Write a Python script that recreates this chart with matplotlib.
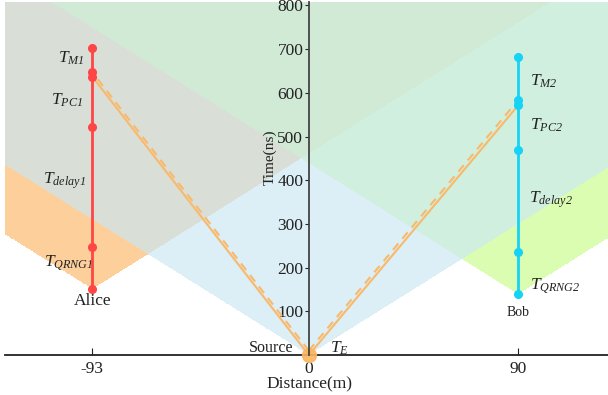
import numpy as np
import matplotlib.pyplot as plt
from matplotlib.colors import ListedColormap

plt.rcParams['font.family'] = ['Liberation Serif', 'DejaVu Serif']
plt.rcParams['mathtext.fontset'] = 'custom'
plt.rcParams['mathtext.rm'] = 'Liberation Serif'
plt.rcParams['mathtext.it'] = 'Liberation Serif:italic'
plt.rcParams['mathtext.sf'] = 'Liberation Serif:italic'  # italic digits in subscripts

# positions (m) and event times (ns)
x_alice = -93
x_bob = 90
alice_t = [151, 248, 522, 637, 647, 702]
bob_t = [139, 236, 469, 572, 584, 683]
fiber_alice = [637, 647]   # solid / dashed arrival
fiber_bob = [572, 584]
dash_start = 10
inv_c = 3.336  # ns per m

xticks = [-93, 0, 90]
xticklabels = ['-93', '0', '90']
yticks = [100, 200, 300, 400, 500, 600, 700, 800]

tex_labels = [
    (r'$T_{\mathsf{M1}}$', -102, 680),
    (r'$T_{\mathsf{PC1}}$', -104, 583),
    (r'$T_{\mathsf{delay1}}$', -105, 400),
    (r'$T_{\mathsf{QRNG1}}$', -103, 210),
    (r'$T_{\mathsf{M2}}$', 101, 627),
    (r'$T_{\mathsf{PC2}}$', 102, 526),
    (r'$T_{\mathsf{delay2}}$', 104, 355),
    (r'$T_{\mathsf{QRNG2}}$', 106, 156),
    (r'$T_{\mathsf{E}}$', 13, 16),
]

# none, S, A, A+S, B, S+B, A+B, A+S+B
region_colors = ['#FFFFFF', '#DCEEF6', '#FDD09B', '#D9DED6',
                 '#DBFDB1', '#D0EFDF', '#D1EAD5', '#D1EAD5']

xlim = (-130.5, 128.5)
ylim = (0, 808)

fig = plt.figure(figsize=(6.08, 3.95), dpi=100)
ax = fig.add_axes([5 / 608, 1 - 355 / 395, 603 / 608, 353 / 395])

# light cones
xs = np.linspace(xlim[0], xlim[1], 1400)
ts = np.linspace(ylim[0], ylim[1], 1200)
X, T = np.meshgrid(xs, ts)
in_s = T >= inv_c * np.abs(X)
in_a = T >= alice_t[0] + inv_c * np.abs(X - x_alice)
in_b = T >= bob_t[0] + inv_c * np.abs(X - x_bob)
code = in_s * 1 + in_a * 2 + in_b * 4
ax.imshow(code, origin='lower', extent=(xlim[0], xlim[1], ylim[0], ylim[1]),
          aspect='auto', interpolation='nearest',
          cmap=ListedColormap(region_colors), vmin=-0.5, vmax=7.5, zorder=0)

# fibres
orange = '#F9B96B'
ax.plot([0, x_alice], [0, fiber_alice[0]], color=orange, lw=1.5, zorder=2)
ax.plot([0, x_alice], [dash_start, fiber_alice[1]], color=orange, lw=1.5, ls=(0, (4, 3)), zorder=2)
ax.plot([0, x_bob], [0, fiber_bob[0]], color=orange, lw=1.5, zorder=2)
ax.plot([0, x_bob], [dash_start, fiber_bob[1]], color=orange, lw=1.5, ls=(0, (4, 3)), zorder=2)
ax.plot([0], [0], 'o', color='#FBB560', ms=10, alpha=0.9, clip_on=False, zorder=3)

# stations
ax.plot([x_alice] * len(alice_t), alice_t, '-o', color='#FF4545', lw=2, ms=5.5, zorder=4)
ax.plot([x_bob] * len(bob_t), bob_t, '-o', color='#14D3F7', lw=2, ms=5.5, zorder=4)

for txt, x, y in tex_labels:
    ax.text(x, y, txt, fontsize=12.5, ha='center', va='center', color='#222222')
ax.text(x_alice, 124, 'Alice', fontsize=12.5, ha='center', va='center', color='#222222')
ax.text(x_bob, 98, 'Bob', fontsize=10, ha='center', va='center', color='#222222')
ax.text(-16, 16, 'Source', fontsize=11.5, ha='center', va='center', color='#222222')

ax.set_xlim(*xlim)
ax.set_ylim(*ylim)
for s in ['top', 'right']:
    ax.spines[s].set_visible(False)
ax.spines['left'].set_position(('data', 0))
ax.spines['left'].set_color('#444444')
ax.spines['left'].set_linewidth(1.3)
ax.spines['bottom'].set_color('#222222')
ax.spines['bottom'].set_linewidth(1.3)
ax.spines['left'].set_zorder(5)

ax.set_xticks(xticks)
ax.set_xticklabels(xticklabels)
ax.set_yticks(yticks)
ax.tick_params(axis='x', direction='in', length=5, pad=4, labelsize=12.5, colors='#222222')
ax.tick_params(axis='y', direction='out', length=3, pad=1, labelsize=12.5, colors='#222222')

ax.set_xlabel('Distance(m)', fontsize=12.5, color='#222222')
ax.xaxis.set_label_coords(304 / 603, -21 / 353)
ax.set_ylabel('Time(ns)', fontsize=11, color='#222222')
ax.yaxis.set_label_coords(272 / 603, 198 / 353)

fig.savefig('out.png', dpi=100)
